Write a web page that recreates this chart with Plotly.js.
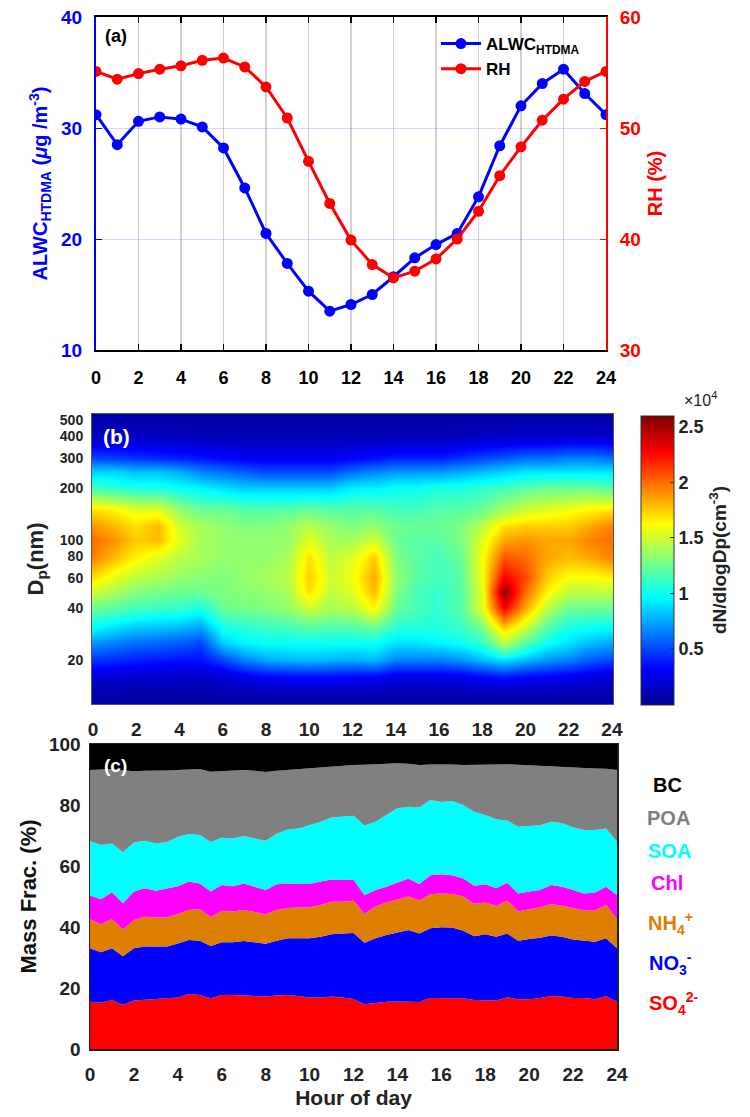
<!DOCTYPE html>
<html><head><meta charset="utf-8">
<script src="https://cdn.plot.ly/plotly-3.0.1.min.js"></script>
<style>html,body{margin:0;padding:0;background:#fff}#chart{width:750px;height:1117px}</style>
</head><body><div id="chart"></div>
<script>
// ---------- Panel (a) ----------
const hours = [0,1,2,3,4,5,6,7,8,9,10,11,12,13,14,15,16,17,18,19,20,21,22,23,24];
const alwc = [31.2,28.5,30.6,31.0,30.8,30.1,28.2,24.6,20.5,17.8,15.3,13.5,14.1,15.0,16.6,18.3,19.5,20.5,23.8,28.4,32.0,34.0,35.3,33.1,31.2];
const rh = [55.1,54.4,54.9,55.3,55.6,56.1,56.3,55.5,53.7,50.9,47.0,43.2,39.9,37.7,36.5,37.1,38.2,40.0,42.5,45.7,48.3,50.7,52.6,54.2,55.1];
const hourTicks = [0,2,4,6,8,10,12,14,16,18,20,22,24];

// ---------- Panel (b) ----------
const diam = [11,13,16,20,25,30,40,50,60,80,100,120,150,200,250,300,400,540];
const dNdlogDp = [
 [500,500,500,500,500,500,500,600,600,600,600,600,600,600,600,600,600,600,600,700,600,600,500,500,500],
 [900,900,850,850,800,800,900,1000,1100,1200,1200,1200,1200,1100,1000,1000,1000,1100,1100,1200,1200,1100,1000,1000,950],
 [2000,1900,1800,1700,1600,1600,2000,2600,3200,3300,3400,3300,3200,3100,2500,2500,2500,2700,3200,3600,3200,3000,2800,2400,2000],
 [4500,4300,4000,3800,3600,3600,5000,6500,7500,7800,8000,7800,7500,8000,6500,6500,6500,7000,8000,9000,8000,7000,6500,5500,5000],
 [7000,6500,6000,5800,5500,5000,8500,9500,10000,10000,10000,10000,10000,10000,9000,9000,9500,10000,11000,14500,12000,10000,9000,8000,7500],
 [9500,8500,8000,7800,7500,7000,10000,10500,11000,11200,11500,11500,11500,12000,10500,10500,10500,11000,12500,17000,14500,11500,10000,9700,9500],
 [12500,12000,11500,11200,11000,10500,12500,12800,13000,13500,15000,14000,14500,16500,12500,11500,11000,12000,15500,23000,18500,14500,12500,12500,12500],
 [15000,14000,13000,12800,12500,12500,13000,13200,13500,14000,17000,14500,15500,18000,13000,11500,11000,12000,15500,25500,20000,16500,14500,14500,14500],
 [17000,15500,14500,14000,13500,13200,13000,13500,14000,14500,17500,15000,16000,18500,13500,12000,11500,12000,16000,23000,21000,17500,16000,16000,16500],
 [19500,18000,16500,15500,14500,14000,13500,13500,13500,14000,17000,14500,15500,17500,13000,12000,11500,12500,16000,20500,20000,18500,18000,18500,19500],
 [20000,19000,17500,18000,15500,14000,13500,13500,13500,13500,15500,14000,14000,15000,12500,12000,12000,13000,15500,18500,19000,18500,18500,19500,20000],
 [19000,18000,17000,18000,15000,14000,13500,13000,13000,13500,14500,13500,13000,13500,12500,12500,12500,13000,14500,17000,17500,17500,17500,18500,19500],
 [17000,16500,15500,15500,13500,12500,12500,12000,12000,12000,12500,12000,12000,12000,11500,11500,12000,12000,12500,14000,15000,15500,16000,16500,17000],
 [11500,11000,10500,10500,10000,9500,9000,8500,8500,8500,8500,8500,9500,9500,10000,10000,10500,10500,11000,11500,12000,12500,12500,12500,12000],
 [8500,8500,8000,8000,7500,6500,6000,5500,5000,5000,5000,5000,6000,6500,7000,7000,7000,7500,8000,8500,9000,9000,9000,9000,9000],
 [5000,4800,4500,4300,4000,3700,3300,3000,2800,2800,2800,2800,3200,3600,4000,4000,4000,4500,5000,5500,6000,6000,6500,6500,6000],
 [1500,1500,1500,1400,1300,1200,1100,1100,1100,1100,1100,1100,1100,1100,1100,1100,1200,1300,1500,1600,1700,1700,1800,1800,1700],
 [500,500,500,500,450,450,400,400,400,400,400,400,400,400,400,400,450,450,500,500,550,550,550,550,500]
];
const dpTicks = [20,40,60,80,100,200,300,400,500];
const cbTickVals = [5000,10000,15000,20000,25000];
const cbTickText = ['0.5','1','1.5','2','2.5'];

// ---------- Panel (c) : cumulative top edges (%) read at half-hour steps ----------
const halfHours = [0,0.5,1,1.5,2,2.5,3,3.5,4,4.5,5,5.5,6,6.5,7,7.5,8,8.5,9,9.5,10,10.5,11,11.5,12,12.5,13,13.5,14,14.5,15,15.5,16,16.5,17,17.5,18,18.5,19,19.5,20,20.5,21,21.5,22,22.5,23,23.5,24];
const so4Top = [15.5,15.2,16.1,14.5,15.9,16.1,16.3,16.6,16.9,18.0,17.7,16.6,17.7,17.7,17.5,17.4,17.2,17.5,17.7,17.4,16.9,16.9,17.2,16.9,16.4,14.7,15.2,15.5,15.6,15.6,15.4,16.7,16.7,16.7,16.6,16.1,16.1,15.9,17.0,16.3,16.3,16.7,17.4,17.2,16.7,16.7,16.3,17.4,15.5];
const no3Top = [33.0,31.7,33.0,30.4,33.0,33.6,33.6,33.6,34.6,35.7,35.5,33.8,35.0,35.0,35.4,34.9,34.5,35.5,36.3,36.3,36.3,36.8,37.6,37.9,38.0,34.8,36.3,37.4,38.1,39.0,37.9,39.6,39.9,39.8,38.8,37.0,37.6,36.8,37.9,35.5,36.1,36.5,37.2,36.8,35.9,35.5,35.2,36.3,33.0];
const nh4Top = [42.5,40.9,42.5,39.2,42.3,43.4,43.1,43.1,44.3,45.6,45.8,43.2,45.3,45.1,45.6,44.8,44.2,45.6,46.2,46.4,46.5,47.2,48.3,48.3,48.6,44.3,46.7,48.0,49.1,50.0,48.7,50.7,51.0,50.8,50.0,47.6,48.0,46.9,48.7,45.1,45.8,46.5,47.5,47.0,46.2,45.4,45.4,47.3,42.5];
const chlTop = [50.3,49.1,51.4,47.8,51.6,52.7,51.9,52.7,53.4,54.9,54.3,51.6,53.8,53.4,54.3,53.2,52.1,54.0,54.3,54.1,54.1,54.9,55.6,55.4,55.6,50.4,52.1,53.2,54.5,55.9,54.1,57.0,57.3,57.0,55.9,53.5,54.0,52.7,54.5,51.0,51.6,52.1,53.8,53.2,52.1,51.0,51.3,53.2,50.5];
const soaTop = [68.2,66.9,67.4,64.5,67.7,68.3,67.4,67.9,69.6,70.5,70.2,67.9,69.3,69.0,69.8,69.0,68.3,70.6,72.0,72.3,73.4,74.5,75.9,76.2,76.5,73.3,74.5,76.7,78.9,79.4,79.2,81.6,81.0,81.3,80.0,77.8,76.7,75.3,74.9,72.9,73.1,73.4,74.5,74.0,72.7,71.8,71.8,72.3,68.0];
const poaTop = [91.5,91.6,91.8,91.4,91.1,91.2,91.2,91.3,91.5,91.7,91.8,90.9,91.1,91.3,91.5,91.2,90.8,91.2,91.5,91.7,91.9,92.2,92.6,92.9,93.1,93.2,93.4,93.6,93.7,93.5,93.1,93.3,93.4,93.3,93.1,93.1,93.1,93.3,93.4,93.2,93.1,93.0,92.8,92.6,92.4,92.2,92.0,91.9,91.5];
const species = ['SO<sub>4</sub><sup>2-</sup>','NO<sub>3</sub><sup>-</sup>','NH<sub>4</sub><sup>+</sup>','Chl','SOA','POA','BC'];
const speciesColors = ['#ff0000','#0000ff','#dc7f00','#ff00ff','#00ffff','#808080','#000000'];

// ---------- helpers ----------
const W = 750, H = 1117;
const px = x => x / W;
const py = y => 1 - y / H;
const FONT = 'Liberation Sans, Arial, sans-serif';
const bold = (size, color) => ({family: FONT, size: size, color: color || '#000', weight: 'bold'});

const tops = [so4Top, no3Top, nh4Top, chlTop, soaTop, poaTop];
const fracs = [];
for (let k = 0; k < 7; k++) {
  fracs.push(halfHours.map((_, i) => {
    const hi = k < 6 ? tops[k][i] : 100;
    const lo = k > 0 ? tops[k - 1][i] : 0;
    return hi - lo;
  }));
}

const traces = [
  {x: hours, y: alwc, name: 'ALWC<sub>HTDMA</sub>', type: 'scatter', mode: 'lines+markers',
   line: {color: '#0000ff', width: 3}, marker: {color: '#0000ff', size: 11, symbol: 'circle'},
   xaxis: 'x', yaxis: 'y', legendrank: 1},
  {x: hours, y: rh, name: 'RH', type: 'scatter', mode: 'lines+markers',
   line: {color: '#ff0000', width: 3}, marker: {color: '#ff0000', size: 11, symbol: 'circle'},
   xaxis: 'x', yaxis: 'y2', legendrank: 2},
  {x: hours, y: diam, z: dNdlogDp, type: 'heatmap', zsmooth: 'best', zmin: 0, zmax: 26000,
   xaxis: 'x2', yaxis: 'y3', showlegend: false, hoverinfo: 'skip',
   colorscale: [[0,'#000090'],[0.125,'#0000ff'],[0.375,'#00ffff'],[0.625,'#ffff00'],[0.875,'#ff0000'],[1,'#800000']],
   colorbar: {x: px(641), xanchor: 'left', y: py(560), yanchor: 'middle', len: 289, lenmode: 'pixels',
     thickness: 33, thicknessmode: 'pixels', outlinecolor: '#333', outlinewidth: 1, ypad: 0, xpad: 0,
     tickvals: cbTickVals, ticktext: cbTickText, ticks: 'inside', ticklen: 4, tickcolor: '#333',
     tickfont: bold(18, '#222'),
     title: {text: 'dN/dlogDp(cm<sup>-3</sup>)', side: 'right', font: bold(19, '#222')}}}
];
for (let k = 0; k < 7; k++) {
  traces.push({x: halfHours, y: fracs[k], name: species[k], type: 'scatter', mode: 'lines',
    stackgroup: 'c', line: {width: 0, color: speciesColors[k]}, fillcolor: speciesColors[k],
    xaxis: 'x3', yaxis: 'y4', showlegend: false, hoverinfo: 'skip'});
}

const layout = {
  width: W, height: H, margin: {l: 0, r: 0, t: 0, b: 0}, paper_bgcolor: '#fff', plot_bgcolor: 'rgba(0,0,0,0)',
  font: {family: FONT},
  showlegend: true,
  legend: {x: px(436), y: py(26), xanchor: 'left', yanchor: 'top', bgcolor: 'rgba(0,0,0,0)', traceorder: 'normal',
    font: bold(17, '#000'), tracegroupgap: 0, itemwidth: 40},
  xaxis: {domain: [px(96), px(606)], anchor: 'y', range: [0, 24], tickvals: hourTicks,
    ticks: 'inside', ticklen: 6, tickwidth: 1.5, tickcolor: '#000', showline: true, linecolor: '#000', linewidth: 2,
    mirror: 'ticks', showgrid: true, gridcolor: '#cfcfcf', gridwidth: 1.5, zeroline: false,
    tickfont: bold(18, '#000'), ticklabelstandoff: 10},
  yaxis: {domain: [py(350), py(17)], anchor: 'x', range: [10, 40], tickvals: [10,20,30,40],
    ticks: 'inside', ticklen: 6, tickcolor: '#0000ff', showline: true, linecolor: '#0000ff', linewidth: 2,
    showgrid: true, gridcolor: 'rgba(0,0,255,0.15)', gridwidth: 1, zeroline: false,
    tickfont: bold(19, '#0000ff'), ticklabelstandoff: 8,
    title: {text: 'ALWC<sub>HTDMA</sub> (<i>μ</i>g /m<sup>-3</sup>)', font: bold(20, '#0000ff'), standoff: 8}},
  yaxis2: {overlaying: 'y', side: 'right', anchor: 'x', range: [30, 60], tickvals: [30,40,50,60],
    ticks: 'inside', ticklen: 6, tickcolor: '#ff0000', showline: true, linecolor: '#ff0000', linewidth: 2,
    showgrid: false, zeroline: false, tickfont: bold(19, '#ff0000'), ticklabelstandoff: 8,
    title: {text: 'RH (%)', font: bold(20, '#ff0000'), standoff: 8}},
  xaxis2: {domain: [px(92), px(613)], anchor: 'y3', range: [-0.05, 24.05], tickvals: hourTicks,
    ticks: '', showline: true, linecolor: '#555', linewidth: 1, mirror: true, showgrid: false, zeroline: false,
    tickfont: bold(19, '#222'), ticklabelstandoff: 8},
  yaxis3: {domain: [py(704), py(414)], anchor: 'x2', type: 'log', range: [Math.log10(11.1), Math.log10(540)],
    tickvals: dpTicks, ticktext: dpTicks.map(String), ticks: '', showline: true, linecolor: '#555', linewidth: 1, mirror: true,
    showgrid: false, zeroline: false, tickfont: bold(14, '#222'), ticklabelstandoff: 5,
    title: {text: 'D<sub>p</sub>(nm)', font: bold(22, '#222'), standoff: 10}},
  xaxis3: {domain: [px(90), px(617)], anchor: 'y4', range: [0, 24], tickvals: hourTicks,
    ticks: '', showline: true, linecolor: '#222', linewidth: 1.5, mirror: true, showgrid: false, zeroline: false,
    tickfont: bold(19, '#222'), ticklabelstandoff: 8,
    title: {text: 'Hour of day', font: bold(21, '#222'), standoff: 6}},
  yaxis4: {domain: [py(1049), py(744)], anchor: 'x3', range: [0, 100], tickvals: [0,20,40,60,80,100],
    ticks: '', showline: true, linecolor: '#222', linewidth: 1.5, mirror: true, showgrid: false, zeroline: false,
    tickfont: bold(19, '#222'), ticklabelstandoff: 4,
    title: {text: 'Mass Frac. (%)', font: bold(22, '#111'), standoff: 6}},
  annotations: [
    {text: '(a)', x: px(103), y: py(36), xref: 'paper', yref: 'paper', xanchor: 'left', yanchor: 'middle', showarrow: false, font: bold(18, '#000')},
    {text: '(b)', x: px(101), y: py(436), xref: 'paper', yref: 'paper', xanchor: 'left', yanchor: 'middle', showarrow: false, font: bold(21, '#fff')},
    {text: '(c)', x: px(102), y: py(765), xref: 'paper', yref: 'paper', xanchor: 'left', yanchor: 'middle', showarrow: false, font: bold(19, '#fff')},
    {text: '×10<sup>4</sup>', x: px(700), y: py(399), xref: 'paper', yref: 'paper', xanchor: 'center', yanchor: 'middle', showarrow: false, font: {family: FONT, size: 16, color: '#222'}},
    {text: 'BC', x: px(667), y: py(785), xref: 'paper', yref: 'paper', xanchor: 'center', yanchor: 'middle', showarrow: false, font: bold(20, '#000')},
    {text: 'POA', x: px(668), y: py(818), xref: 'paper', yref: 'paper', xanchor: 'center', yanchor: 'middle', showarrow: false, font: bold(20, '#808080')},
    {text: 'SOA', x: px(669), y: py(851), xref: 'paper', yref: 'paper', xanchor: 'center', yanchor: 'middle', showarrow: false, font: bold(20, '#00ffff')},
    {text: 'Chl', x: px(667), y: py(883), xref: 'paper', yref: 'paper', xanchor: 'center', yanchor: 'middle', showarrow: false, font: bold(20, '#ff00ff')},
    {text: species[2], x: px(670), y: py(923), xref: 'paper', yref: 'paper', xanchor: 'center', yanchor: 'middle', showarrow: false, font: bold(20, '#dc7f00')},
    {text: species[1], x: px(670), y: py(963), xref: 'paper', yref: 'paper', xanchor: 'center', yanchor: 'middle', showarrow: false, font: bold(20, '#0000ff')},
    {text: species[0], x: px(673), y: py(1003), xref: 'paper', yref: 'paper', xanchor: 'center', yanchor: 'middle', showarrow: false, font: bold(20, '#ff0000')}
  ]
};

Plotly.newPlot('chart', traces, layout, {displayModeBar: false, staticPlot: true});
</script></body></html>
